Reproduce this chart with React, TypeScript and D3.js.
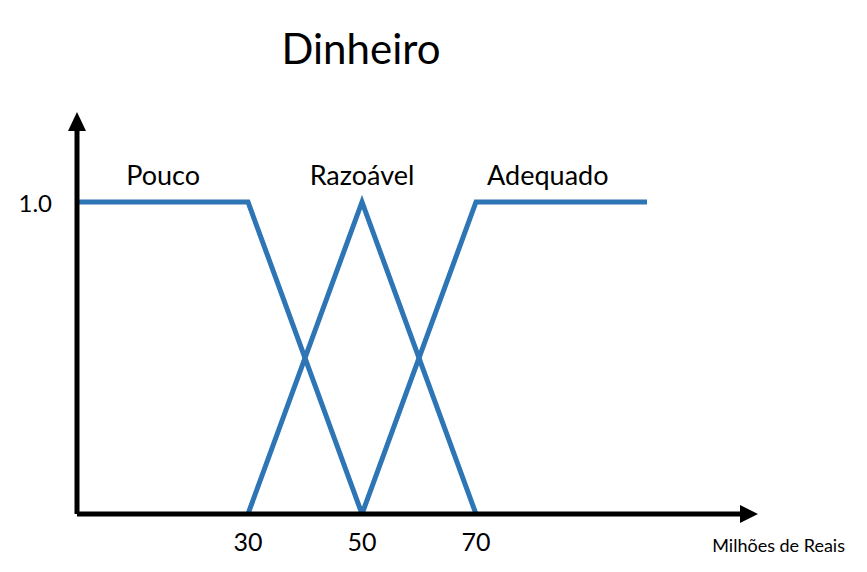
import React from "react";
import * as d3 from "d3";

const xTicks = [30, 50, 70];
const pouco: [number, number][] = [[0, 1], [30, 1], [50, 0]];
const razoavel: [number, number][] = [[30, 0], [50, 1], [70, 0]];
const adequado: [number, number][] = [[50, 0], [70, 1], [100, 1]];
const series = [pouco, razoavel, adequado];
const labels = [
  { text: "Pouco", x: 15.1 },
  { text: "Razoável", x: 50 },
  { text: "Adequado", x: 82.6 },
];

export default function App() {
  const x = d3.scaleLinear().domain([0, 100]).range([77, 647]);
  const y = d3.scaleLinear().domain([0, 1]).range([514, 202]);
  const line = d3.line<[number, number]>().x(d => x(d[0])).y(d => y(d[1]));
  const font = "Lato, 'Open Sans', sans-serif";
  return (
    <svg width={867} height={572} style={{ position: "absolute", left: 0, top: 0 }} fontFamily={font}>
      <rect width={867} height={572} fill="#fff" />
      <text x={361} y={64} textAnchor="middle" fontSize={42}>Dinheiro</text>
      {series.map((s, i) => (
        <path key={i} d={line(s) || ""} fill="none" stroke="#2E75B6" strokeWidth={5} />
      ))}
      <line x1={77} y1={514} x2={742} y2={514} stroke="#000" strokeWidth={5} />
      <line x1={77} y1={514} x2={77} y2={128} stroke="#000" strokeWidth={5} />
      <polygon points="758,514 740,505 740,523" fill="#000" />
      <polygon points="77,112 68,131 86,131" fill="#000" />
      {labels.map(l => (
        <text key={l.text} x={x(l.x)} y={185} textAnchor="middle" fontSize={27}>{l.text}</text>
      ))}
      <text x={52} y={212} textAnchor="end" fontSize={24}>1.0</text>
      {xTicks.map(t => (
        <text key={t} x={x(t)} y={551} textAnchor="middle" fontSize={25}>{t}</text>
      ))}
      <text x={845} y={552} textAnchor="end" fontSize={18}>Milhões de Reais</text>
    </svg>
  );
}
